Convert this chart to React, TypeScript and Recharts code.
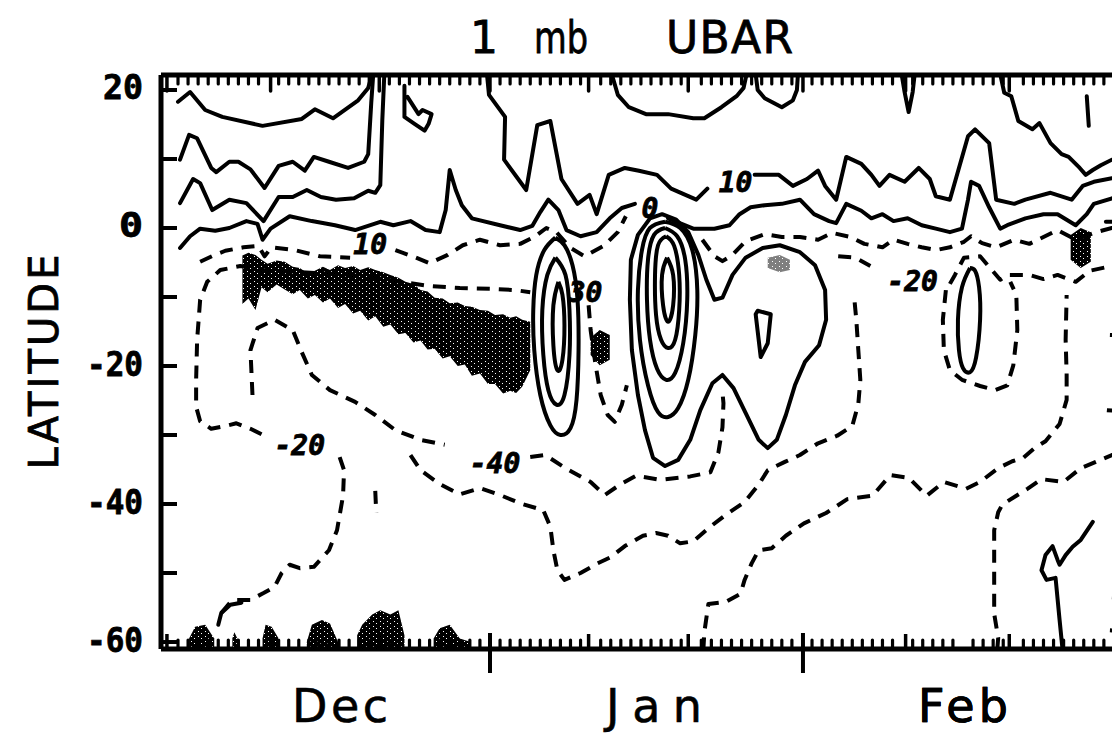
import React from 'react';
import { ComposedChart, Line, Area, XAxis, YAxis, ReferenceDot } from 'recharts';

// ---------------- axes ----------------
const X_DOMAIN: [number, number] = [-1.69, 94.0]; // days from 1 Dec
const Y_DOMAIN: [number, number] = [-61.01, 22.17]; // latitude
const MEDIUM_TICKS = [-1.1, 9.2, 20.0, 40.8, 50.7, 72.3, 82.6];
const MAJOR_TICKS = [31.0, 62.1];
const MONTH_DAYS = [16.1, 47.3, 78.0];
const MONTHS = ['Dec', 'Jan', 'Feb'];
const MONTH_WIDTHS = [96, 96, 90];
const Y_TICKS = [20, 10, 0, -10, -20, -30, -40, -50, -60];
const Y_LABEL_VALUES = [20, 0, -20, -40, -60];
const Y_LABEL_WIDTHS = [40, 24, 56, 56, 56];
const MINOR_TICKS = Array.from({ length: 95 }, (_, i) => i - 1).filter(
  (d) => ![...MEDIUM_TICKS, ...MAJOR_TICKS].some((m) => Math.abs(m - d) < 0.5)
);

// ---------------- solid contours (day, lat) ----------------
type P = [number, number];
const N1: P[] = [[0,18.3],[1.2,19.7],[2.7,17.1],[4.4,16.1],[8.4,14.8],[12.3,15.8],[13.6,17.2],[15.4,15.9],[17.9,18.5],[18.9,20.3],[19.3,22.3]];
const N2: P[] = [[0.2,9.9],[1.1,13.5],[1.9,13.0],[3.3,8.7],[3.8,8.1],[5.1,9.6],[6.0,9.6],[7.2,8.5],[8.6,5.8],[10.0,9.0],[11.4,9.6],[12.6,8.3],[13.5,10.3],[15.0,9.6],[16.9,8.7],[18.5,9.6],[18.9,10.7],[19.2,18.1],[19.4,22.3]];
const N3: P[] = [[0.2,3.6],[1.5,7.1],[2.2,6.5],[3.4,2.6],[5.1,4.1],[6.8,3.6],[8.5,1.0],[10.0,4.5],[11.4,4.5],[12.8,5.5],[14.2,4.5],[15.7,4.1],[17.5,4.3],[18.9,5.4],[19.6,5.1],[20.1,6.2],[20.3,15.6],[20.5,22.3]];
const N4A: P[] = [[0.2,-2.9],[1.2,-1.2],[2.2,-0.1],[3.7,-0.4],[5.1,0],[6.8,1.0],[7.9,0.6],[8.4,-1.7],[9.2,-0.1],[11.1,1.7],[13.3,1.0],[15.6,0.4],[17.6,-0.3],[20.1,0.9],[21.4,0.4],[23.1,1.0],[24.6,-0.3],[26.0,-0.6],[26.6,2.6],[27.0,8.4],[27.6,5.5],[28.2,3.3],[29.2,1.4],[32.0,0.4],[34.0,-0.3],[35.2,0.3],[36.0,2.3],[36.8,4.1],[37.8,2.6],[38.6,-0.3],[40.0,-1.2],[41.6,-0.6],[42.9,1.4],[44.1,2.9],[45.4,3.5]];
const N4B: P[] = [[48.7,1.4],[51.2,-0.1],[53.3,-0.1],[54.8,0.4],[55.8,2.0],[56.9,3.0],[58.3,3.3],[60.0,3.5],[61.8,4.1],[63.2,2.0],[64.7,1.0],[65.4,0.7],[66.4,3.5],[67.9,2.5],[68.9,1.4],[70.0,2.0],[71.1,1.0],[72.5,1.4],[73.9,0.4],[75.3,-0.1],[76.7,-0.6],[77.9,-0.1],[78.5,4.1],[78.8,6.7],[79.6,6.1],[80.6,3.0],[81.7,-0.1],[82.4,0.4],[84.2,1.4],[86.0,2.0],[87.4,2.0],[89.2,0.4],[90.3,2.0],[91.0,3.5],[92.8,4.3],[94,4.5]];
const N10A: P[] = [[30.7,22.3],[30.9,19.3],[32.5,16.1],[32.4,9.9],[34.6,5.5],[35.7,14.9],[37.0,15.5],[38.1,7.1],[39.7,3.5],[40.9,4.8],[41.6,2.0],[42.8,7.7],[44.4,8.7],[45.8,8.3],[47.6,7.7],[49.0,5.7],[51.5,4.1],[52.6,5.7]];
const N10B: P[] = [[57.3,7.7],[59.7,7.7],[61.1,6.1],[62.5,7.1],[63.6,8.3],[64.3,6.1],[65.4,4.1],[66.4,10.3],[67.9,9.3],[68.9,7.7],[69.7,6.1],[70.7,7.7],[72.2,6.7],[73.6,8.7],[74.7,7.1],[75.3,4.6],[76.7,4.1],[78.5,13.3],[79.2,14.3],[80.6,12.3],[81.3,4.1],[83.1,3.5],[84.2,4.1],[86.7,5.1],[88.8,4.1],[89.9,6.1],[91.0,6.7],[92.8,7.2],[94,7.4]];
const TOP1: P[] = [[43.1,22.3],[43.7,19.3],[44.8,17.5],[46.5,16.5],[48.7,16.5],[51.2,15.9],[52.3,15.9],[54.0,17.5],[55.5,19.1],[56.2,20.3],[56.5,22.3]];
const TOP2: P[] = [[57.4,22.3],[57.6,20.0],[58.3,18.8],[60.0,17.5],[61.1,18.5],[61.5,20.0],[61.6,22.3]];
const TOP3: P[] = [[71.9,22.3],[72.2,19.7],[72.6,16.8],[73.0,19.7],[73.2,22.3]];
const TOP4: P[] = [[81.7,22.3],[82.1,19.6],[82.8,19.1],[83.5,15.5],[84.9,14.3],[85.6,15.2],[86.7,12.3],[87.8,10.7],[88.5,10.3],[89.6,8.7],[90.2,7.7],[90.9,8.4],[91.7,9.1],[92.8,9.9],[94,10.2]];
const TOP5: P[] = [[90.3,19.1],[90.5,14.8]];
const LOOP: P[] = [[22.5,20.6],[22.5,16.1],[23.5,15.1],[24.5,14.1],[24.9,15.1],[25.2,16.5],[24.3,17.1],[23.9,16.5],[23.2,18.1],[22.8,19.0]];
const E1A: P[] = [[37.5,-1.4],[36.4,-3.2],[35.6,-6.8],[35.3,-11.9],[35.4,-17.7],[36.0,-24.2],[37.0,-28.6],[38.0,-30.0],[39.0,-29.0],[39.6,-24.9],[39.8,-17.7],[39.7,-10.4],[39.2,-5.4],[38.4,-2.5],[37.5,-1.4]];
const E1B: P[] = [[37.5,-4.3],[36.7,-6.8],[36.2,-11.9],[36.3,-18.4],[36.8,-23.5],[37.6,-25.6],[38.4,-24.2],[38.9,-18.4],[38.9,-11.9],[38.5,-6.8],[37.5,-4.3]];
const E1C: P[] = [[37.8,-7.8],[37.3,-11.2],[37.3,-17.0],[37.7,-20.6],[38.2,-19.1],[38.4,-14.1],[38.2,-9.7],[37.8,-7.8]];
const W_OUT: P[] = [[46.9,1.4],[48.1,2.0],[49.5,1.2],[50.7,-0.6],[51.7,-3.9],[52.5,-7.5],[53.3,-10.4],[54.1,-10.1],[55.1,-6.8],[56.4,-4.3],[58.1,-2.9],[59.8,-2.5],[61.8,-3.5],[63.3,-5.4],[64.3,-9.0],[64.4,-13.3],[63.7,-17.0],[62.3,-19.4],[61.3,-22.8],[60.4,-27.1],[59.5,-30.7],[58.6,-31.9],[57.7,-30.7],[56.4,-26.8],[55.2,-23.2],[54.1,-21.3],[53.1,-22.5],[51.9,-26.4],[50.9,-30.7],[49.7,-33.6],[48.4,-34.5],[47.2,-33.3],[46.4,-29.3],[45.7,-24.2],[45.1,-17.7],[44.9,-10.4],[45.0,-4.6],[45.7,-1.0],[46.9,1.4]];
const E2R2: P[] = [[48.4,0.9],[46.9,0],[46.1,-3.2],[45.7,-9.0],[45.9,-16.2],[46.7,-22.8],[47.7,-26.7],[48.7,-27.4],[49.7,-26.1],[50.7,-22.0],[51.4,-15.5],[51.6,-9.0],[51.1,-3.2],[49.9,0],[48.4,0.9]];
const E2R3: P[] = [[48.4,0],[47.3,-1.0],[46.7,-4.6],[46.6,-10.4],[46.9,-16.2],[47.6,-20.4],[48.5,-22.0],[49.4,-21.0],[50.2,-16.7],[50.6,-10.4],[50.4,-4.6],[49.6,-1.2],[48.4,0]];
const E2R4: P[] = [[48.5,-1.2],[47.7,-2.5],[47.4,-6.8],[47.5,-12.6],[48.0,-16.2],[48.7,-17.4],[49.4,-16.2],[49.8,-11.9],[49.8,-6.8],[49.3,-2.6],[48.5,-1.2]];
const E2R5: P[] = [[48.6,-4.3],[48.1,-6.8],[48.2,-11.2],[48.7,-13.6],[49.2,-11.2],[49.2,-6.8],[48.6,-4.3]];
const W_D: P[] = [[57.6,-12.0],[58.9,-12.5],[58.6,-16.7],[57.9,-18.7],[57.4,-12.5],[57.6,-12.0]];
const E3: P[] = [[78.7,-5.8],[77.9,-8.6],[77.5,-13.3],[77.6,-17.7],[78.0,-20.3],[78.7,-20.9],[79.3,-18.8],[79.7,-13.3],[79.6,-8.6],[79.2,-6.2],[78.7,-5.8]];
const SQ_BR: P[] = [[87.9,-61.2],[87.6,-56.8],[87.2,-50.7],[86.3,-51.0],[85.8,-49.6],[86.2,-47.4],[86.9,-46.1],[87.4,-48.1],[87.6,-48.8],[88.2,-47.4],[88.9,-46.2],[89.7,-45.2],[90.9,-42.6]];
const SQ_BL: P[] = [[4.0,-57.5],[4.3,-55.8],[5.2,-54.6],[6.3,-54.3]];
const EDGE_SOLID: P[] = [[92.2,0.9],[94,0.9]];

// ---------------- dashed contours (day, lat) ----------------
const DA1: P[] = [[2.2,-4.9],[3.5,-4.0],[4.7,-3.3],[6.5,-2.8],[8.0,-2.6],[8.6,-4.1],[9.3,-2.8],[11.6,-3.2],[14.1,-4.1],[17.1,-4.3]];
const DA2: P[] = [[21.6,-3.2],[23.3,-4.1],[25.0,-5.1],[26.8,-3.9],[28.3,-2.5],[30.0,-1.7],[32.0,-2.5],[34.0,-2.3],[35.5,-1.2],[36.6,0],[37.6,-0.6],[39.0,-2.9],[40.4,-4.1],[42.3,-2.6],[43.7,-0.6],[44.5,1.7]];
const DB: P[] = [[52.1,-1.7],[53.3,-4.1],[54.1,-4.8],[55.1,-3.9],[56.4,-1.9],[58.3,-0.9],[60.0,-1.3],[61.8,-1.3],[63.6,-1.7],[65.0,-0.7],[66.8,-1.3],[68.2,-2.3],[70.0,-2.8],[71.1,-1.7],[72.5,-2.3],[73.9,-2.8],[75.3,-3.2],[76.7,-2.8],[78.1,-2.0],[78.8,-1.2],[79.9,-2.2],[81.3,-2.8],[83.1,-1.7],[84.6,-2.3],[86.0,-1.3],[87.4,-0.3],[89.2,-1.7],[91.0,-0.7],[92.8,0],[94,0.2]];
const DC1: P[] = [[65.6,-4.1],[67.3,-4.3],[68.8,-5.5]];
const DC2: P[] = [[76.7,-8.1],[77.2,-6.8],[78.1,-4.3],[79.7,-4.1],[80.7,-5.8],[81.7,-7.5],[82.4,-6.8],[84.6,-6.8],[86.0,-7.4],[87.4,-6.8],[89.2,-7.8],[90.6,-6.2],[92.8,-5.5],[94,-5.4]];
const DD: P[] = [[76.3,-9.0],[76.0,-13.3],[76.1,-17.7],[76.7,-20.6],[77.9,-22.0],[79.7,-22.9],[81.2,-23.5],[82.4,-22.8],[83.0,-19.9],[83.4,-14.8],[83.3,-9.7],[82.7,-7.8]];
const DF: P[] = [[52.2,-61.2],[52.3,-58.6],[52.7,-54.5],[54.4,-54.2],[55.9,-53.0],[56.3,-51.0],[57.0,-48.6],[57.7,-46.7],[59.0,-46.4],[60.4,-44.6],[62.2,-42.8],[64.4,-41.3],[66.5,-39.3],[69.0,-38.8],[70.8,-35.8],[72.6,-36.2],[74.4,-38.8],[76.1,-36.8],[78.3,-37.8],[79.7,-36.8],[81.5,-34.8],[82.9,-33.8],[84.0,-33.3],[85.1,-31.9],[86.2,-30.9],[87.6,-28.4],[88.3,-24.9],[88.3,-21.2],[88.2,-16.2],[88.3,-9.7]];
const DG: P[] = [[81.4,-61.2],[81.5,-59.4],[81.1,-55.9],[81.1,-51.3],[81.1,-46.7],[81.1,-43.8],[81.5,-41.2],[81.9,-40.1],[83.3,-38.8],[84.4,-37.8],[85.8,-36.4],[88.0,-36.8],[89.7,-34.8],[91.2,-33.9],[92.8,-32.9],[94,-32.5]];
const DL20A: P[] = [[4.3,-55.8],[5.4,-53.9],[7.2,-53.9],[8.5,-52.9],[9.6,-52.0],[10.3,-50.0],[11.1,-48.8],[12.1,-49.3],[13.5,-49.1],[15.0,-46.7],[15.8,-43.8],[16.4,-38.8],[16.5,-35.1],[15.9,-32.5]];
const DL20B: P[] = [[8.3,-29.9],[7.2,-29.1],[5.8,-28.3],[4.7,-28.7],[3.3,-29.1],[2.2,-28.0],[1.8,-25.9],[1.8,-22.0],[1.9,-16.2],[2.2,-10.4],[2.9,-7.8],[4.2,-6.1],[6.2,-5.5],[8.3,-6.1],[12.1,-6.4],[16.1,-6.7],[19.6,-7.2],[22.1,-7.8],[25.0,-8.4],[28.0,-8.7],[31.0,-8.8],[33.5,-9.0],[35.0,-9.3]];
const DK1: P[] = [[7.4,-24.2],[7.2,-17.7],[7.9,-14.5],[9.6,-13.3],[11.4,-14.8],[12.3,-18.0],[13.3,-21.3],[15.1,-23.5],[17.6,-25.2],[19.6,-27.1],[21.6,-29.3],[24.1,-30.7],[26.5,-31.4]];
const DK2: P[] = [[35.0,-33.2],[36.5,-32.9],[38.5,-34.8],[41.0,-36.8],[42.4,-38.7],[43.9,-37.2],[45.5,-35.9],[47.9,-36.5],[50.9,-36.0],[52.9,-35.4],[53.7,-32.5],[54.1,-28.9],[54.2,-25.4],[54.1,-23.8]];
const DJ: P[] = [[23.1,-32.9],[24.1,-35.1],[26.0,-37.1],[28.0,-38.6],[30.0,-37.7],[32.0,-38.7],[34.0,-39.9],[36.3,-40.9],[37.0,-43.3],[37.3,-46.7],[37.7,-49.6],[38.4,-51.0],[40.0,-50.0],[41.7,-48.6],[43.0,-47.7],[44.4,-46.1],[46.2,-44.6],[47.5,-44.2],[48.7,-44.6],[49.9,-45.7],[51.2,-45.4],[52.7,-43.5],[54.4,-41.6],[56.3,-39.7],[57.7,-37.2],[58.6,-35.1],[60.3,-33.9],[61.8,-32.9],[63.6,-31.2],[65.5,-30.1],[67.0,-28.7],[67.6,-25.5],[67.8,-22.0],[67.6,-17.7],[67.4,-13.3],[67.2,-10.2]];
const DN: P[] = [[40.8,-11.2],[41.0,-14.8],[41.5,-19.9],[42.0,-24.2],[42.7,-27.1],[43.4,-28.1],[44.1,-25.6],[44.6,-22.8]];
const DEX: P[] = [[19.6,-38.1],[19.7,-41.3]];
const EDGE1: P[] = [[92.6,-15.5],[94,-15.6]];
const EDGE2: P[] = [[92.3,-26.4],[94,-26.6]];
const EDGE3: P[] = [[92.8,-53.5],[94,-53.6]];
const EDGE4: P[] = [[92.6,-58.3],[94,-58.4]];

// ---------------- shaded regions (day, low lat, high lat) ----------------
type B = [number, number, number];
const BAND_MAIN: B[] = [[6.4,-11.0,-4.0],[7.0,-10.2,-3.6],[7.7,-11.9,-3.9],[8.3,-8.6,-4.6],[8.9,-9.3,-5.2],[9.8,-8.2,-4.7],[10.6,-8.9,-4.9],[11.4,-9.6,-5.6],[12.1,-9.0,-5.8],[12.9,-10.2,-6.6],[13.6,-9.7,-6.2],[14.4,-10.8,-5.6],[15.1,-10.2,-6.1],[15.9,-11.6,-5.4],[16.6,-11.0,-5.8],[17.4,-12.4,-5.5],[18.1,-12.0,-6.1],[18.9,-13.4,-5.7],[19.6,-12.8,-6.1],[20.4,-14.3,-6.4],[21.1,-14.0,-6.8],[21.9,-15.4,-7.2],[22.6,-15.2,-7.8],[23.4,-16.6,-8.1],[24.1,-16.3,-9.0],[24.8,-17.6,-9.2],[25.5,-17.5,-10.1],[26.3,-18.9,-10.2],[27.0,-18.6,-10.9],[27.8,-20.0,-10.8],[28.5,-19.8,-11.3],[29.2,-21.4,-11.4],[30.0,-21.1,-11.9],[30.8,-22.6,-12.0],[31.5,-22.6,-12.6],[32.3,-24.0,-12.5],[33.0,-23.6,-13.0],[33.6,-23.9,-12.8],[34.2,-23.0,-13.3],[35.0,-20.6,-13.6]];
const BAND_JAN: B[] = [[41.0,-18.4,-15.9],[41.9,-19.9,-14.8],[42.9,-19.1,-15.5]];
const BAND_FEB: B[] = [[88.7,-4.6,-1.0],[89.7,-5.8,0],[90.7,-4.9,-0.6]];
const BAND_LIGHT: B[] = [[58.6,-5.8,-4.3],[59.8,-6.4,-3.9],[60.8,-6.1,-4.6]];
const BLOB1: B[] = [[1.1,-61,-59.5],[1.7,-61,-57.8],[2.7,-61,-57.5],[3.6,-61,-59.5]];
const BLOB2: B[] = [[5.4,-61,-59.5],[5.6,-61,-58.6],[5.9,-61,-59.5]];
const BLOB3: B[] = [[8.4,-61,-59.5],[8.7,-61,-57.5],[9.3,-61,-57.8],[10.0,-61,-59.5]];
const BLOB4: B[] = [[12.8,-61,-60],[13.3,-61,-57.5],[14.3,-61,-56.8],[15.1,-61,-57.3],[15.9,-61,-60]];
const BLOB5: B[] = [[17.8,-61,-59],[18.3,-61,-57.5],[19.3,-61,-56],[20.1,-61,-55.4],[21.1,-61,-56],[21.9,-61,-55.4],[22.5,-61,-59]];
const BLOB6: B[] = [[25.4,-61,-59.5],[26.0,-61,-58],[27.0,-61,-57.5],[28.0,-61,-59.5],[29.1,-61,-60]];

// ---------------- contour labels ----------------
const LABEL_DAYS = [19.1, 46.9, 55.4, 40.5, 73.0, 12.1, 31.5];
const LABEL_LATS = [-2.3, 2.9, 6.7, -9.3, -7.7, -31.4, -34.1];
const LABEL_TEXTS = ['10', '0', '10', '30', '-20', '-20', '-40'];

const RINGS = [E1A, E1B, E1C, E2R2, E2R3, E2R4, E2R5, E3];
const SOLID = [N1, N2, N3, N4A, N4B, N10A, N10B, LOOP, W_OUT, W_D, SQ_BR, SQ_BL, EDGE_SOLID];
const SOLID_TOP = [TOP1, TOP2, TOP3, TOP4, TOP5];
const DASHED = [DA1, DA2, DB, DC1, DC2, DD, DF, DG, DL20A, DL20B, DK1, DK2, DJ, DN, DEX, EDGE1, EDGE2, EDGE3, EDGE4];
const DARK_BANDS = [BAND_MAIN, BAND_JAN, BAND_FEB, BLOB1, BLOB2, BLOB3, BLOB4, BLOB5, BLOB6];

const pts = (a: P[]) => a.map(([day, lat]) => ({ day, lat }));
const band = (a: B[]) => a.map(([day, lo, hi]) => ({ day, r: [lo, hi] }));

const FONT_MONO = "'DejaVu Sans Mono', monospace";
const FONT_SANS = "'DejaVu Sans', sans-serif";
const LW = 4;

function BottomTick(props: any) {
  const { x, y, payload } = props;
  const v = payload?.value;
  const mi = MONTH_DAYS.indexOf(v);
  if (mi >= 0)
    return (
      <text x={x} y={y + 73} textAnchor="middle" fontFamily={FONT_SANS} fontSize={46} fill="#000" stroke="#000" strokeWidth={0.6} textLength={MONTH_WIDTHS[mi]} lengthAdjust="spacing">
        {MONTHS[mi]}
      </text>
    );
  if (MAJOR_TICKS.includes(v)) return <line x1={x} x2={x} y1={y - 16} y2={y + 24} stroke="#000" strokeWidth={4} />;
  if (MEDIUM_TICKS.includes(v)) return <line x1={x} x2={x} y1={y - 15} y2={y} stroke="#000" strokeWidth={3.5} />;
  return <line x1={x} x2={x} y1={y - 9} y2={y} stroke="#000" strokeWidth={3.2} strokeLinecap="round" />;
}

function TopTick(props: any) {
  const { x, y, payload } = props;
  const v = payload?.value;
  const big = MAJOR_TICKS.includes(v) || MEDIUM_TICKS.includes(v);
  return <line x1={x} x2={x} y1={y} y2={y + (big ? 16 : 9)} stroke="#000" strokeWidth={big ? 3.5 : 3.2} strokeLinecap="round" />;
}

function LeftTick(props: any) {
  const { x, y, payload } = props;
  const v = payload?.value;
  const li = Y_LABEL_VALUES.indexOf(v);
  return (
    <g>
      <line x1={x} x2={x + 16} y1={y} y2={y} stroke="#000" strokeWidth={4} />
      {li >= 0 && (
        <text x={x - 18} y={y - 2} textAnchor="end" dominantBaseline="central" fontFamily={FONT_MONO} fontWeight="bold" fontSize={33} fill="#000" stroke="#000" strokeWidth={0.8} textLength={Y_LABEL_WIDTHS[li]} lengthAdjust="spacingAndGlyphs">
          {String(v)}
        </text>
      )}
    </g>
  );
}

export default function App() {
  const bottomTicks = [...MINOR_TICKS, ...MEDIUM_TICKS, ...MAJOR_TICKS, ...MONTH_DAYS];
  const topTicks = [...MINOR_TICKS, ...MEDIUM_TICKS, ...MAJOR_TICKS];
  const lineProps = { stroke: '#000', strokeWidth: LW, strokeLinejoin: 'round' as const, dot: false, activeDot: false, isAnimationActive: false };
  return (
    <div style={{ position: 'absolute', left: 0, top: 0, width: 1112, height: 735, overflow: 'hidden', background: '#fff' }}>
      <svg width={0} height={0} style={{ position: 'absolute' }}>
        <defs>
          <pattern id="stipple" width={7} height={5} patternUnits="userSpaceOnUse">
            <rect width={7} height={5} fill="#000" />
            <rect x={2} y={1} width={1} height={1} fill="#fff" />
            <rect x={5} y={3} width={1} height={1} fill="#fff" />
          </pattern>
        </defs>
      </svg>
      <ComposedChart width={1140} height={735} margin={{ top: 45, right: 16, bottom: 26, left: 101 }}>
        <XAxis xAxisId="b" dataKey="day" type="number" domain={X_DOMAIN} allowDataOverflow orientation="bottom" height={60}
          ticks={bottomTicks} interval={0} tickLine={false} tickSize={0} tickMargin={0}
          axisLine={{ stroke: '#000', strokeWidth: 5 }} tick={(p: any) => <BottomTick {...p} />} />
        <XAxis xAxisId="t" dataKey="day" type="number" domain={X_DOMAIN} allowDataOverflow orientation="top" height={30}
          ticks={topTicks} interval={0} tickLine={false} tickSize={0} tickMargin={0}
          axisLine={{ stroke: '#000', strokeWidth: 5 }} tick={(p: any) => <TopTick {...p} />} />
        <YAxis yAxisId="l" type="number" domain={Y_DOMAIN} allowDataOverflow width={60}
          ticks={Y_TICKS} interval={0} tickLine={false} tickSize={0} tickMargin={0}
          axisLine={{ stroke: '#000', strokeWidth: 5 }} tick={(p: any) => <LeftTick {...p} />} />

        {DARK_BANDS.map((b, i) => (
          <Area key={'b' + i} xAxisId="b" yAxisId="l" data={band(b)} dataKey="r" type="linear" stroke="none" fill="url(#stipple)" fillOpacity={1} isAnimationActive={false} dot={false} activeDot={false} />
        ))}
        <Area xAxisId="b" yAxisId="l" data={band(BAND_LIGHT)} dataKey="r" type="linear" stroke="none" fill="url(#stipple)" fillOpacity={0.5} isAnimationActive={false} dot={false} activeDot={false} />

        {RINGS.map((c, i) => (
          <Line key={'r' + i} xAxisId="b" yAxisId="l" data={pts(c)} dataKey="lat" type="natural" {...lineProps} />
        ))}
        {SOLID.map((c, i) => (
          <Line key={'s' + i} xAxisId="b" yAxisId="l" data={pts(c)} dataKey="lat" type="linear" strokeLinecap="round" {...lineProps} />
        ))}
        {SOLID_TOP.map((c, i) => (
          <Line key={'t' + i} xAxisId="t" yAxisId="l" data={pts(c)} dataKey="lat" type="linear" strokeLinecap="round" {...lineProps} />
        ))}
        {DASHED.map((c, i) => (
          <Line key={'d' + i} xAxisId="b" yAxisId="l" data={pts(c)} dataKey="lat" type="linear" strokeDasharray="13 9" {...lineProps} />
        ))}
        {LABEL_TEXTS.map((t, i) => (
          <ReferenceDot key={'l' + i} xAxisId="b" yAxisId="l" x={LABEL_DAYS[i]} y={LABEL_LATS[i]} r={0} fill="none" stroke="none"
            label={{ value: t, position: 'center', fill: '#000', stroke: '#000', strokeWidth: 0.8, fontSize: 28, fontWeight: 700, fontStyle: 'italic', fontFamily: FONT_MONO }} />
        ))}
      </ComposedChart>
      <svg width={1112} height={735} style={{ position: 'absolute', left: 0, top: 0, pointerEvents: 'none' }}>
        <g fill="#000" stroke="#000" strokeWidth={0.8} fontFamily={FONT_SANS} fontSize={44}>
          <text x={470} y={53}>1</text>
          <text x={534} y={53} textLength={54} lengthAdjust="spacingAndGlyphs">mb</text>
          <text x={666} y={53} textLength={127} lengthAdjust="spacing">UBAR</text>
          <text transform="translate(58,362) rotate(-90)" textAnchor="middle" fontSize={40} textLength={215} lengthAdjust="spacing">LATITUDE</text>
        </g>
      </svg>
    </div>
  );
}
